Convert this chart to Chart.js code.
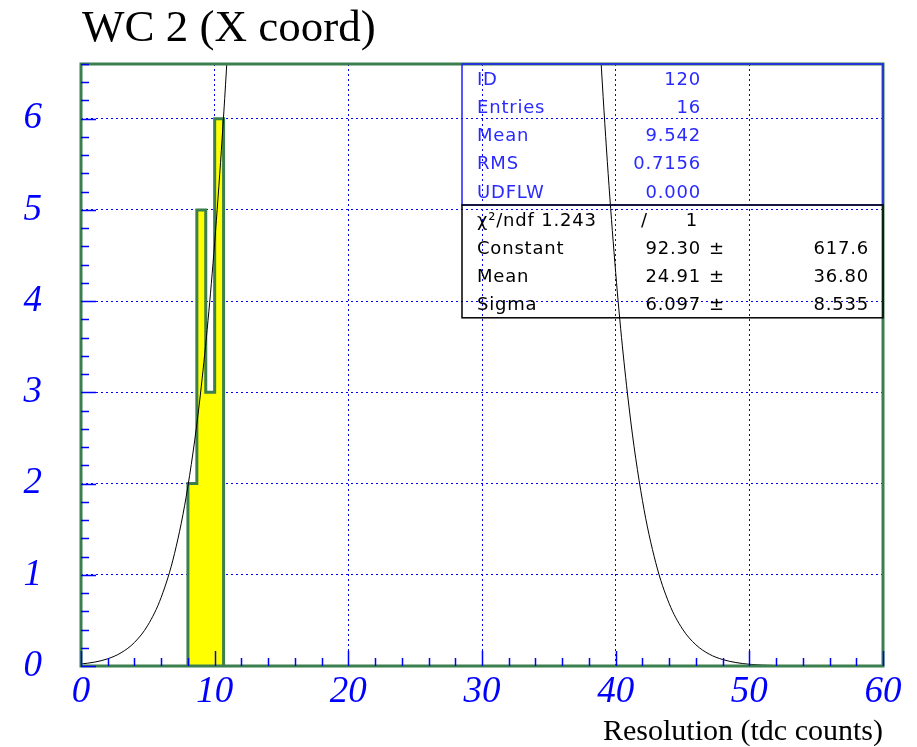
<!DOCTYPE html>
<html>
<head>
<meta charset="utf-8">
<script src="https://cdn.jsdelivr.net/npm/chart.js@4/dist/chart.umd.min.js"></script>
<style>
  html, body { margin: 0; padding: 0; background: #ffffff; }
  #wrap { width: 917px; height: 747px; position: relative; }
</style>
</head>
<body>
<div id="wrap"><canvas id="c"></canvas></div>
<script>
// ---- data ----
const chartTitle = 'WC 2 (X coord)';
const xAxisTitle = 'Resolution (tdc counts)';
const binEdges = [8, 8.667, 9.333, 10, 10.667];
const binCounts = [2, 5, 3, 6];
const fitX = [0,1,2,3,4,5,6,7,8,9,10,11,12,13,14,15,16,17,18,19,20,21,22,23,24,25,26,27,28,29,30,
              31,32,33,34,35,36,37,38,39,40,41,42,43,44,45,46,47,48,49,50,51,52,53,54,55,56,57,58,59,60];
const fitY = [0.022,0.042,0.079,0.145,0.258,0.447,0.753,1.235,1.972,3.067,4.641,6.840,9.80,13.70,18.62,
              24.63,31.73,39.79,48.57,57.70,66.74,75.15,82.37,87.88,91.28,92.29,90.83,87.03,81.18,73.70,
              65.14,56.05,46.94,38.28,30.38,23.47,17.65,12.92,9.21,6.392,4.315,2.838,1.817,1.132,0.686,
              0.405,0.233,0.130,0.071,0.038,0.019,0.010,0.005,0.002,0.001,0.0005,0.0002,0.0001,0,0,0];
const xTickLabels = [0, 10, 20, 30, 40, 50, 60];
const yTickLabels = [0, 1, 2, 3, 4, 5, 6];
const statsRows = [['ID', '120'], ['Entries', '16'], ['Mean', '9.542'], ['RMS', '0.7156'], ['UDFLW', '0.000']];
const chi2Value = '1.243';
const ndfValue = '1';
const fitRows = [['Constant', '92.30', '617.6'], ['Mean', '24.91', '36.80'], ['Sigma', '6.097', '8.535']];

// ---- histogram outline built from bins ----
const histPoints = [{x: binEdges[0], y: 0}];
binCounts.forEach((c, i) => {
  histPoints.push({x: binEdges[i], y: c});
  histPoints.push({x: binEdges[i + 1], y: c});
});
histPoints.push({x: binEdges[binEdges.length - 1], y: 0});
const fitPoints = fitX.map((x, i) => ({x: x, y: fitY[i]}));

// ---- styles ----
const BLUE = '#0000ff';
const GREEN = '#3b7f4e';
const SERIF = '"Liberation Serif", "Times New Roman", serif';
const SANS = '"DejaVu Sans", sans-serif';

const decorPlugin = {
  id: 'decor',
  afterDatasetsDraw(chart) {
    const ctx = chart.ctx;
    const a = chart.chartArea;
    const xs = chart.scales.x, ys = chart.scales.y;
    ctx.save();
    // frame
    ctx.strokeStyle = GREEN;
    ctx.lineWidth = 3;
    ctx.strokeRect(a.left, a.top, a.right - a.left, a.bottom - a.top);
    // ticks
    ctx.strokeStyle = BLUE;
    ctx.lineWidth = 1.5;
    ctx.beginPath();
    for (let k = 0; k <= 33; k++) {
      const v = k * 0.2;
      if (v > ys.max + 1e-9) break;
      const py = Math.round(ys.getPixelForValue(v)) + 0.5;
      const len = (k % 5 === 0) ? 15 : 8;
      ctx.moveTo(a.left, py); ctx.lineTo(a.left + len, py);
    }
    for (let k = 0; k <= 30; k++) {
      const v = k * 2;
      const px = Math.round(xs.getPixelForValue(v)) + 0.5;
      const len = (k % 5 === 0) ? 15 : 8;
      ctx.moveTo(px, a.bottom); ctx.lineTo(px, a.bottom - len);
    }
    ctx.stroke();

    // stats box
    const bl = 462, br = a.right, bt = a.top;
    const rowH = 28.2;
    const upperB = bt + rowH * statsRows.length;
    const lowerB = upperB + rowH * 4;
    ctx.font = '18px ' + SANS;
    ctx.letterSpacing = '0.8px';
    ctx.textBaseline = 'middle';
    ctx.fillStyle = '#2a2aff';
    statsRows.forEach((r, i) => {
      const y = bt + rowH * (i + 0.5) + 2;
      ctx.textAlign = 'left';
      ctx.fillText(r[0], bl + 15, y);
      ctx.textAlign = 'right';
      ctx.fillText(r[1], bl + 239, y);
    });
    ctx.strokeStyle = '#2020ff';
    ctx.lineWidth = 1.5;
    ctx.strokeRect(bl, bt, br - bl, upperB - bt);

    ctx.fillStyle = '#000000';
    let y = upperB + rowH * 0.5 + 2;
    ctx.textAlign = 'left';
    ctx.fillText('\u03c7\u00b2/ndf ' + chi2Value, bl + 15, y);
    ctx.fillText('/', bl + 179, y);
    ctx.textAlign = 'right';
    ctx.fillText(ndfValue, bl + 236, y);
    fitRows.forEach((r, i) => {
      const yy = upperB + rowH * (i + 1.5) + 2;
      ctx.textAlign = 'left';
      ctx.fillText(r[0], bl + 15, yy);
      ctx.textAlign = 'right';
      ctx.fillText(r[1], bl + 239, yy);
      ctx.textAlign = 'left';
      ctx.fillText('\u00b1', bl + 247, yy);
      ctx.textAlign = 'right';
      ctx.fillText(r[2], bl + 407, yy);
    });
    ctx.strokeStyle = '#000000';
    ctx.lineWidth = 1.5;
    ctx.strokeRect(bl, upperB, br - bl, lowerB - upperB);

    // title
    ctx.letterSpacing = '0px';
    ctx.fillStyle = '#000000';
    ctx.font = '45px ' + SERIF;
    ctx.textAlign = 'left';
    ctx.textBaseline = 'alphabetic';
    ctx.fillText(chartTitle, 82, 41);
    ctx.restore();
  }
};

new Chart(document.getElementById('c'), {
  type: 'line',
  data: {
    datasets: [
      {
        label: 'fit',
        data: fitPoints,
        borderColor: '#000000',
        borderWidth: 1,
        pointRadius: 0,
        fill: false,
        cubicInterpolationMode: 'monotone',
        order: 0
      },
      {
        label: 'hist',
        data: histPoints,
        borderColor: GREEN,
        borderWidth: 3,
        backgroundColor: '#ffff00',
        pointRadius: 0,
        tension: 0,
        fill: 'origin',
        order: 1
      }
    ]
  },
  options: {
    responsive: true,
    maintainAspectRatio: false,
    animation: false,
    layout: { padding: { left: 0, right: 34, top: 64, bottom: 0 } },
    plugins: { legend: { display: false }, tooltip: { enabled: false }, title: { display: false } },
    scales: {
      x: {
        type: 'linear',
        min: 0, max: 60,
        z: 1,
        afterFit(s) { s.height = 81; },
        ticks: {
          stepSize: 10,
          autoSkip: false,
          maxRotation: 0,
          padding: 4,
          color: BLUE,
          font: { family: SERIF, size: 37, style: 'italic' },
          callback: (v) => xTickLabels.includes(v) ? String(v) : ''
        },
        grid: { color: BLUE, lineWidth: 1, drawTicks: false, borderDash: [2, 3] },
        border: { display: false, dash: [2, 3] },
        title: {
          display: true,
          text: xAxisTitle,
          align: 'end',
          color: '#000000',
          font: { family: SERIF, size: 30, lineHeight: 1 },
          padding: { top: 0, bottom: 0 }
        }
      },
      y: {
        type: 'linear',
        min: 0, max: 6.6,
        afterFit(s) { s.width = 81; },
        ticks: {
          stepSize: 1,
          includeBounds: false,
          padding: 39,
          color: BLUE,
          font: { family: SERIF, size: 37, style: 'italic' },
          callback: (v) => yTickLabels.includes(v) ? String(v) : ''
        },
        grid: { color: BLUE, lineWidth: 1, drawTicks: false, borderDash: [2, 3] },
        border: { display: false, dash: [2, 3] }
      }
    }
  },
  plugins: [decorPlugin]
});
</script>
</body>
</html>
